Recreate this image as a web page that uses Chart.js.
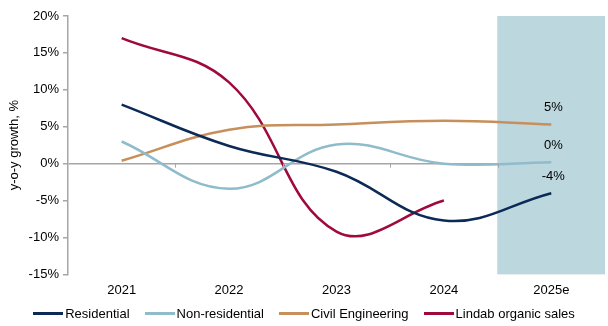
<!DOCTYPE html>
<html>
<head>
<meta charset="utf-8">
<script src="https://cdn.jsdelivr.net/npm/chart.js@4"></script>
<style>
  html, body { margin: 0; padding: 0; background: #fff; }
  #wrap { position: relative; width: 608px; height: 326px; }
  #legend {
    position: absolute; left: 0; right: 0; top: 306px;
    display: flex; justify-content: center; gap: 15px;
    font: 13px 'Liberation Sans', Arial, sans-serif; color: #000;
  }
  #legend .item { display: flex; align-items: center; white-space: nowrap; }
  #legend .swatch { width: 30px; height: 3px; margin-right: 2px; }
</style>
</head>
<body>
<div id="wrap">
  <canvas id="myChart" width="608" height="326"></canvas>
  <div id="legend"></div>
</div>
<script>
var years = ['2021', '2022', '2023', '2024', '2025e'];
var residential = [8.0, 2.4, -1.1, -7.7, -4.0];
var nonResidential = [3.0, -3.4, 2.6, 0.0, 0.2];
var civilEngineering = [0.4, 4.6, 5.3, 5.8, 5.3];
var lindabSales = [17.0, 11.0, -9.2, -5.0, null];
var forecastBand = [null, null, null, null, [-15, 20]];
var endLabels = { 0: '-4%', 1: '0%', 2: '5%' };

var grey = '#a6a6a6';
Chart.defaults.font.family = "'Liberation Sans', Arial, sans-serif";
Chart.defaults.font.size = 13;
Chart.defaults.color = '#000';

// ----------------------------------------------------------------

function lineSet(label, values, color) {
  return {
    type: 'line',
    label: label,
    data: values,
    borderColor: color,
    backgroundColor: color,
    borderWidth: 2.5,
    tension: 0.4,
    pointRadius: 0,
    spanGaps: false,
    order: 1
  };
}

const zeroTicks = {
  id: 'zeroTicks',
  afterDatasetsDraw(chart) {
    var ctx = chart.ctx;
    var x = chart.scales.x;
    var y0 = chart.scales.y.getPixelForValue(0);
    ctx.save();
    ctx.strokeStyle = grey;
    ctx.lineWidth = 1;
    for (var i = 1; i < years.length; i++) {
      var px = Math.round((x.getPixelForValue(i - 1) + x.getPixelForValue(i)) / 2) + 0.5;
      ctx.beginPath();
      ctx.moveTo(px, y0);
      ctx.lineTo(px, y0 + 4);
      ctx.stroke();
    }
    // end labels for 2025e
    ctx.fillStyle = '#000';
    ctx.font = "13px 'Liberation Sans', Arial, sans-serif";
    ctx.textAlign = 'center';
    ctx.textBaseline = 'middle';
    Object.keys(endLabels).forEach(function (k) {
      var meta = chart.getDatasetMeta(+k);
      var pt = meta.data[4];
      ctx.fillText(endLabels[k], pt.x + 2, pt.y - 17);
    });
    ctx.restore();
  }
};

const config = {
  data: {
    labels: years,
    datasets: [
      lineSet('Residential', residential, '#0b2a55'),
      lineSet('Non-residential', nonResidential, '#8fbccb'),
      lineSet('Civil Engineering', civilEngineering, '#c68f5b'),
      lineSet('Lindab organic sales', lindabSales, '#a0093d'),
      {
        type: 'bar',
        label: 'forecast',
        data: forecastBand,
        backgroundColor: '#bdd7de',
        borderWidth: 0,
        barPercentage: 1,
        categoryPercentage: 1,
        order: 5
      }
    ]
  },
  plugins: [zeroTicks],
  options: {
    responsive: false,
    animation: false,
    layout: { padding: { left: 5, right: 3, top: 16, bottom: 20 } },
    plugins: {
      tooltip: { enabled: false },
      legend: { display: false }
    },
    scales: {
      x: {
        offset: true,
        grid: { display: false, drawTicks: false },
        border: { display: false },
        ticks: { padding: 8 }
      },
      y: {
        min: -15,
        max: 20,
        ticks: {
          stepSize: 5,
          padding: 4,
          callback: function (v) { return v + '%'; }
        },
        title: {
          display: true,
          text: 'y-o-y growth, %',
          padding: 2
        },
        grid: {
          drawOnChartArea: true,
          color: function (c) { return c.tick && c.tick.value === 0 ? grey : 'transparent'; },
          tickColor: grey,
          tickLength: 5,
          lineWidth: 1.5
        },
        border: { display: true, color: grey, width: 1.5 }
      }
    }
  }
};

var canvas = document.getElementById('myChart').getContext('2d');
var myChart = new Chart(canvas, config);

// html legend built from the line datasets
var legendBox = document.getElementById('legend');
config.data.datasets.slice(0, 4).forEach(function (ds) {
  var item = document.createElement('div');
  item.className = 'item';
  var sw = document.createElement('span');
  sw.className = 'swatch';
  sw.style.background = ds.borderColor;
  item.appendChild(sw);
  item.appendChild(document.createTextNode(ds.label));
  legendBox.appendChild(item);
});
</script>
</body>
</html>
